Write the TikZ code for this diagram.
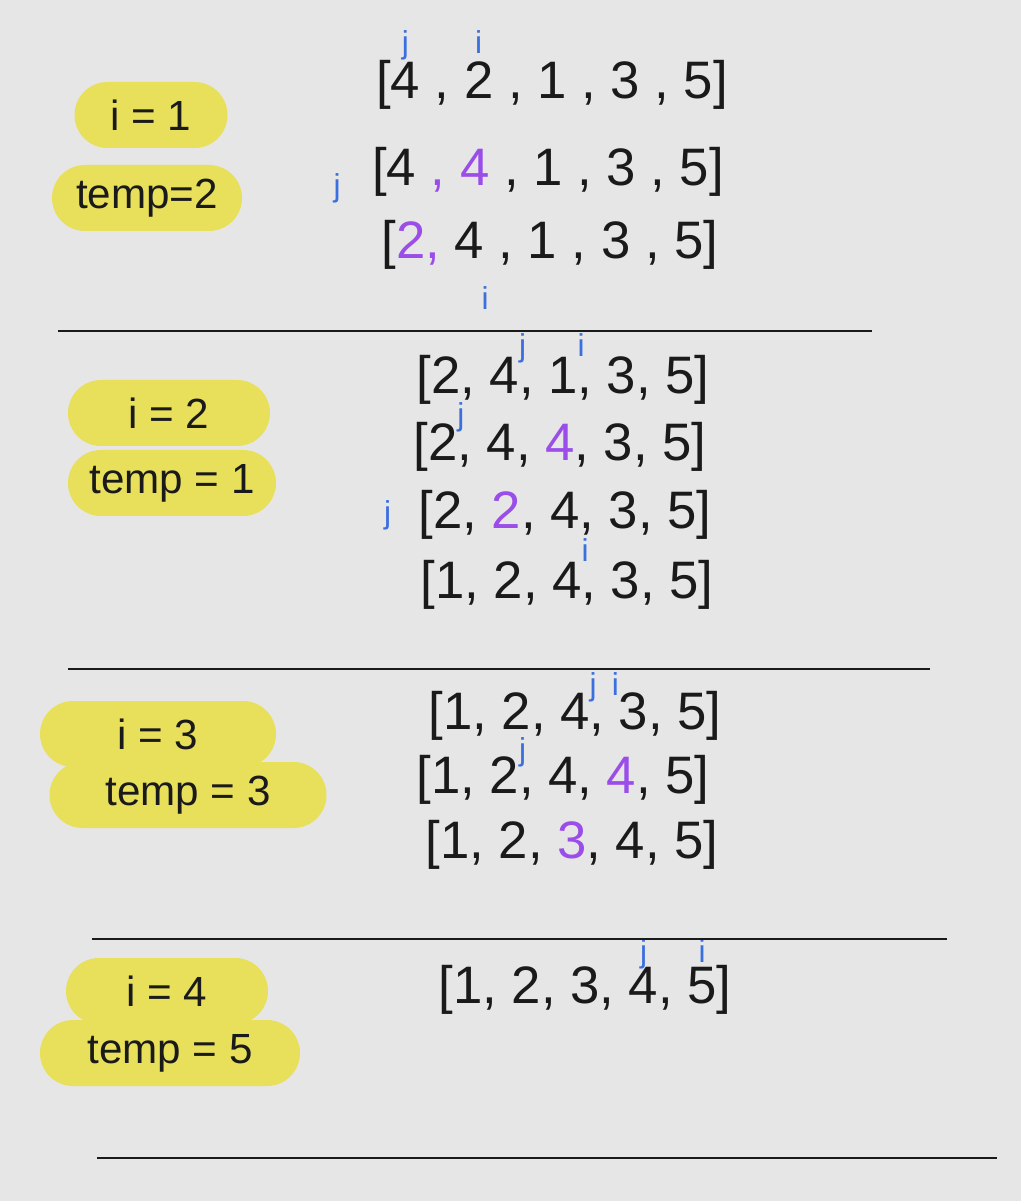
\documentclass[tikz,border=0pt]{standalone}
\usepackage{fontspec}
\setmainfont{Liberation Sans}
\usetikzlibrary{positioning}
\definecolor{sortInk}{HTML}{1A1A1A}
\definecolor{sortPaper}{HTML}{E6E6E6}
\definecolor{sortYellow}{HTML}{E8DF5A}
\definecolor{sortPurple}{HTML}{9A4DE8}
\definecolor{sortBlue}{HTML}{3A6FE0}
\newcommand{\sortmarkfont}{\fontsize{9}{10}\selectfont\color{sortBlue}}
\newcommand{\markabove}[3][0.85em]{\setbox0\hbox{#3}\rlap{\hbox to\wd0{\hss\smash{\raisebox{#1}{\sortmarkfont #2}}\hss}}\box0\relax}
\newcommand{\markafter}[2][0.7em]{\rlap{\smash{\raisebox{#1}{\sortmarkfont #2}}}}
\newcommand{\markbefore}[2][0.7em]{\llap{\smash{\raisebox{#1}{\sortmarkfont #2}}}}
\tikzset{
  every picture/.style={font=\fontsize{15}{18}\selectfont, text=sortInk},
  sort pill/.style={fill=sortYellow, rounded corners=3.3mm, minimum height=6.6mm,
    inner sep=0pt, font=\fontsize{12}{14}\selectfont},
  sort row/.style={inner sep=0pt},
  sort mark/.style={text=sortBlue, inner sep=0pt, font=\fontsize{9}{10}\selectfont},
  sort rule/.style={draw=sortInk, line width=0.8pt}
}

\begin{document}
\begin{tikzpicture}[x=0.1mm,y=-0.1mm]
  \fill[sortPaper] (0,0) rectangle (1021,1201);
  \useasboundingbox (0,0) rectangle (1021,1201);
  % pills
  \node[sort pill, minimum width=15.3mm] (iOne) at (151,115) {i = 1};
  \node[sort pill, minimum width=19mm] (tempOne) at (147,198) {temp=2};
  \node[sort pill, minimum width=20.2mm] (iTwo) at (169,413) {i = 2};
  \node[sort pill, minimum width=20.8mm] (tempTwo) at (172,483) {temp = 1};
  \node[sort pill, minimum width=23.6mm] (iThree) at (158,734) {i = 3};
  \node[sort pill, minimum width=27.7mm] (tempThree) at (188,795) {temp = 3};
  \node[sort pill, minimum width=20.2mm] (iFour) at (167,991) {i = 4};
  \node[sort pill, minimum width=26mm] (tempFour) at (170,1053) {temp = 5};
  % arrays, i and j written on the digits
  \foreach \x/\y/\row [count=\k] in {
      552/85/{[\markabove{j}{4} , \markabove{i}{2} , 1 , 3 , 5]},
      548/172/{[4 \textcolor{sortPurple}{, 4} , 1 , 3 , 5]},
      550/245/{[\textcolor{sortPurple}{2,} 4 , 1 , 3 , 5]},
      563/380/{[2, 4\markafter{j}, 1\markafter{i}, 3, 5]},
      560/447/{[2\markafter[0.66em]{j}, 4, \textcolor{sortPurple}{4}, 3, 5]},
      565/515/{[2, \textcolor{sortPurple}{2}, 4, 3, 5]},
      567/585/{[1, 2, 4\markafter{i}, 3, 5]},
      575/716/{[1, 2, 4\markafter[0.64em]{j}, \markbefore[0.64em]{i}3, 5]},
      563/780/{[1, 2\markafter[0.62em]{j}, 4, \textcolor{sortPurple}{4}, 5]},
      572/845/{[1, 2, \textcolor{sortPurple}{3}, 4, 5]},
      585/990/{[1, 2, 3, \markabove[0.78em]{j}{4}, \markabove[0.78em]{i}{5}]}}{
    \node[sort row] (row\k) at (\x,\y) {\row};
  }
  \node[sort mark, left=3mm of row2.west, yshift=-1.6mm] (jTwo) {j};
  \node[sort mark] (iBelow) at (485,298) {i};
  \node[sort mark, left=2.6mm of row6.west] (jSix) {j};
  % separators
  \draw[sort rule] (58,331) -- (872,331);
  \draw[sort rule] (68,669) -- (930,669);
  \draw[sort rule] (92,939) -- (947,939);
  \draw[sort rule] (97,1158) -- (997,1158);
\end{tikzpicture}
\end{document}
